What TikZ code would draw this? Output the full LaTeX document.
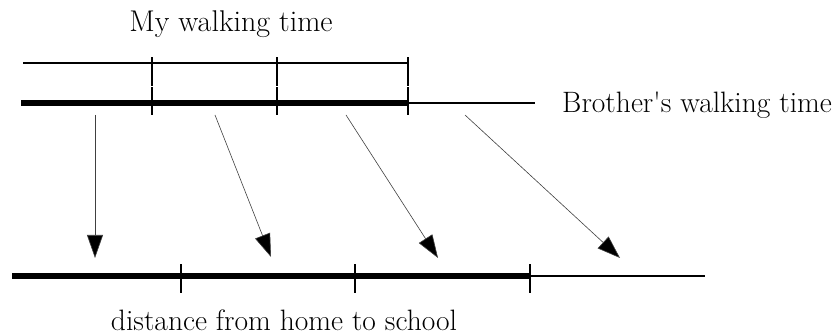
\documentclass[tikz,border=0pt]{standalone}
\usetikzlibrary{arrows.meta}
\begin{document}
\begin{tikzpicture}[x=1pt,y=-1pt,
  thinline/.style={line width=2pt},
  thickline/.style={line width=6.5pt},
  tick/.style={line width=2pt},
  mapar/.style={line width=0.6pt, draw=black!75, -{Triangle[length=23pt,width=16pt,fill=black]}},
  lbl/.style={font=\fontsize{30}{34}\selectfont, inner sep=0pt}]
\useasboundingbox (0,0) rectangle (835,336);
% top line: my walking time
\coordinate (t0) at (23,63);
\coordinate (t1) at (152,63);
\coordinate (t2) at (277,63);
\coordinate (t3) at (408,63);
\draw[thinline] (t0) -- (t3);
\foreach \n in {t1,t2,t3} \draw[tick] ([yshift=-23pt]\n) -- ([yshift=6pt]\n);
\node[lbl, anchor=base] (my) at (231,32) {My walking time};
% brother line
\coordinate (b0) at (21,103);
\coordinate (b1) at (152,103);
\coordinate (b2) at (277,103);
\coordinate (b3) at (408,103);
\coordinate (b4) at (535,103);
\draw[thickline] (b0) -- (b3);
\draw[thinline] (b3) -- (b4);
\foreach \n in {b1,b2,b3} \draw[tick] ([yshift=-12pt]\n) -- ([yshift=16pt]\n);
\node[lbl, font=\fontsize{29.5}{34}\selectfont, anchor=base west] (bro) at (562,113) {Brother\textquotesingle s walking time};
% bottom line: distance
\coordinate (d0) at (12,276);
\coordinate (d1) at (181,276);
\coordinate (d2) at (355,276);
\coordinate (d3) at (530,276);
\coordinate (d4) at (705,276);
\draw[thickline] (d0) -- (d3);
\draw[thinline] (d3) -- (d4);
\foreach \n in {d1,d2,d3} \draw[tick] ([yshift=-17pt]\n) -- ([yshift=12pt]\n);
\node[lbl, font=\fontsize{29.5}{34}\selectfont, anchor=base] (dist) at (284,331) {distance from home to school};
% mapping arrows
\coordinate (s1) at (95,115);  \coordinate (e1) at (95,258);
\coordinate (s2) at (215,115); \coordinate (e2) at (271,257);
\coordinate (s3) at (346,115); \coordinate (e3) at (438,258);
\coordinate (s4) at (465,115); \coordinate (e4) at (620,258);
\foreach \i in {1,2,3,4} \draw[mapar] (s\i) -- (e\i);
\end{tikzpicture}
\end{document}
